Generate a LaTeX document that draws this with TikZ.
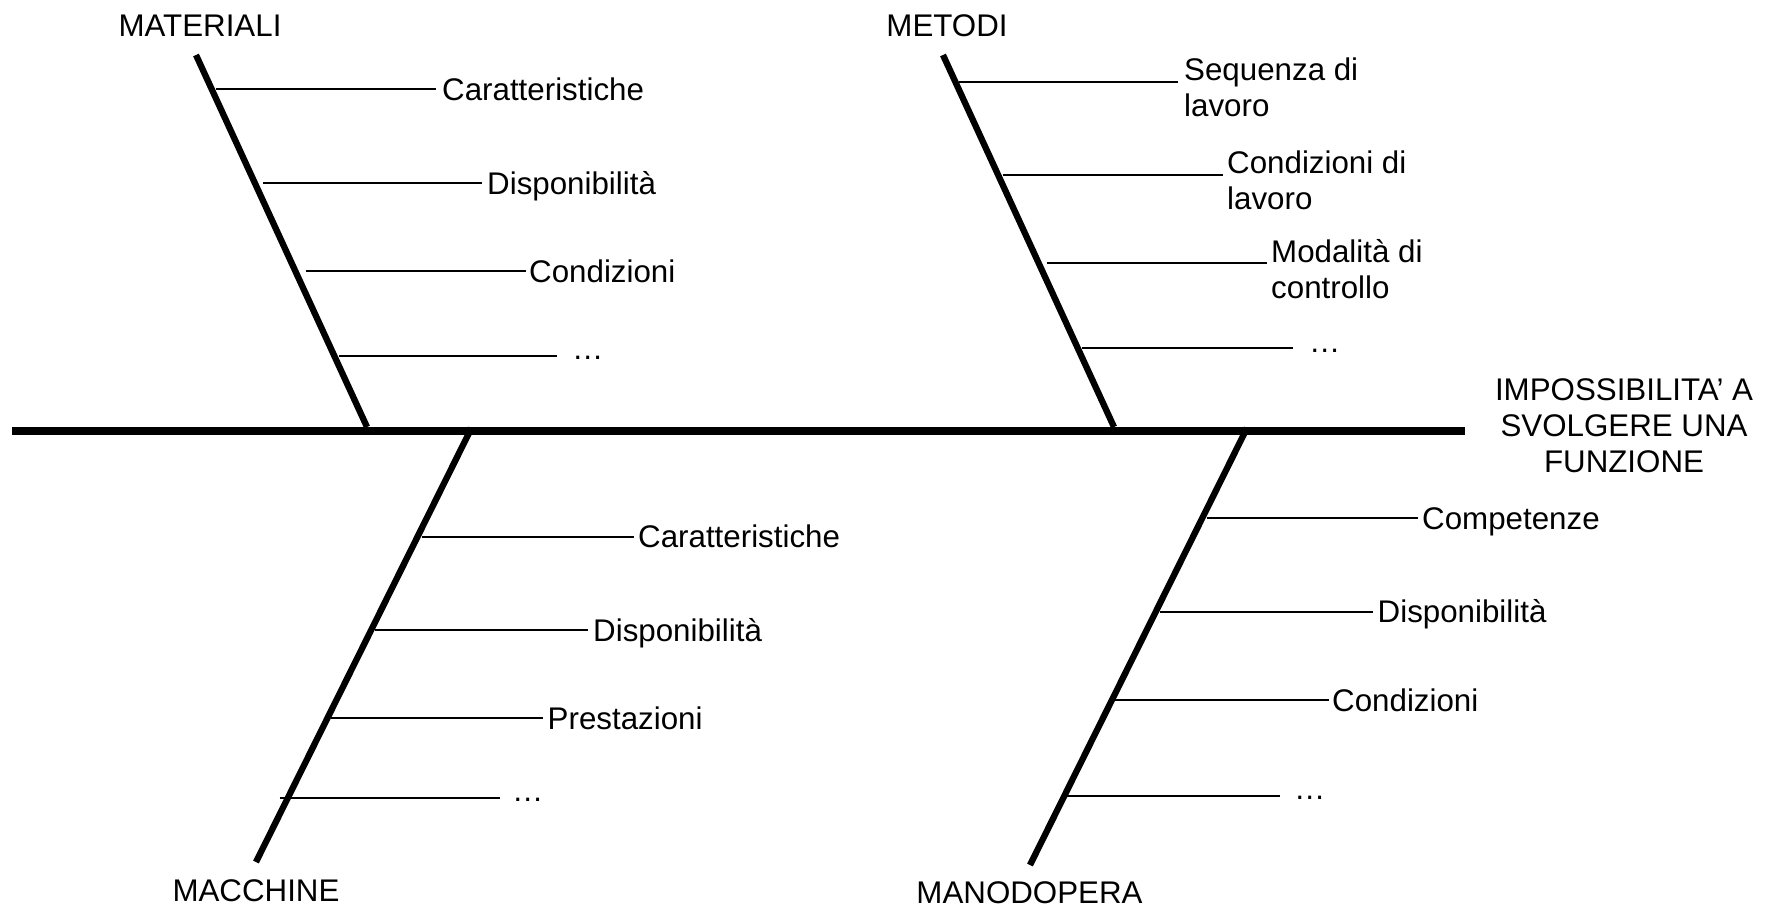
\documentclass[tikz,border=0pt]{standalone}
\usepackage{fontspec}
\setmainfont{Liberation Sans}
\newcommand\diagfont{\fontsize{31.3}{36}\selectfont}
\newcommand\twoln[2]{\vtop{\hbox{#1}\hbox{#2}}}
\begin{document}
\begin{tikzpicture}[x=1pt,y=-1pt,
  spine/.style={line width=7.7pt},
  bone/.style={line width=6.3pt},
  twig/.style={line width=1.9pt},
  lbl/.style={inner sep=0pt,anchor=base west,font=\diagfont},
  cat/.style={inner sep=0pt,anchor=base,font=\diagfont}]
\useasboundingbox (0,0) rectangle (1777,908);

% ---------- category labels ----------
\node[cat] (materiali) at (200,36) {MATERIALI};
\node[cat] (metodi) at (947,36) {METODI};
\node[cat] (macchine) at (256,901.5) {MACCHINE};
\node[cat] (manodopera) at (1029.5,903) {MANODOPERA};
\node[cat] (effetto) at (1624,400.7)
  {\vtop{\halign{\hfil#\hfil\cr IMPOSSIBILITA’ A\cr SVOLGERE UNA\cr FUNZIONE\cr}}};

% ---------- bone end points ----------
\coordinate (spL) at (12,431);
\coordinate (spR) at (1465,431);
\coordinate (maT) at (196,55);   \coordinate (maB) at (367,427);
\coordinate (meT) at (943,55);   \coordinate (meB) at (1114,427);
\coordinate (mcT) at (471.5,428); \coordinate (mcB) at (256,862);
\coordinate (mnT) at (1247,428);  \coordinate (mnB) at (1030,865);

% ---------- MATERIALI branches ----------
\coordinate (ma1s) at (216,89);   \coordinate (ma1e) at (436,89);
\coordinate (ma2s) at (263,183);  \coordinate (ma2e) at (482,183);
\coordinate (ma3s) at (306,271);  \coordinate (ma3e) at (526,271);
\coordinate (ma4s) at (339,356);  \coordinate (ma4e) at (557,356);
\draw[twig] (ma1s) -- (ma1e);
\draw[twig] (ma2s) -- (ma2e);
\draw[twig] (ma3s) -- (ma3e);
\draw[twig] (ma4s) -- (ma4e);
\node[lbl] (ma1) at (442,100) {Caratteristiche};
\node[lbl] (ma2) at (487,194) {Disponibilità};
\node[lbl] (ma3) at (529,282) {Condizioni};
\node[lbl] (ma4) at (572,359.5) {…};

% ---------- METODI branches ----------
\coordinate (me1s) at (959,82.3);    \coordinate (me1e) at (1178,82.3);
\coordinate (me2s) at (1002.5,175);  \coordinate (me2e) at (1223,175);
\coordinate (me3s) at (1047,263.3);  \coordinate (me3e) at (1267,263.3);
\coordinate (me4s) at (1081.7,347.7);\coordinate (me4e) at (1293,347.7);
\draw[twig] (me1s) -- (me1e);
\draw[twig] (me2s) -- (me2e);
\draw[twig] (me3s) -- (me3e);
\draw[twig] (me4s) -- (me4e);
\node[lbl] (me1) at (1184,80) {\twoln{Sequenza di}{lavoro}};
\node[lbl] (me2) at (1227,173.3) {\twoln{Condizioni di}{lavoro}};
\node[lbl] (me3) at (1271,262.7) {\twoln{Modalità di}{controllo}};
\node[lbl] (me4) at (1309,352) {…};

% ---------- MACCHINE branches ----------
\coordinate (mc1s) at (422,536.7);  \coordinate (mc1e) at (634,536.7);
\coordinate (mc2s) at (375,630);    \coordinate (mc2e) at (587.5,630);
\coordinate (mc3s) at (331,718);    \coordinate (mc3e) at (543,718);
\coordinate (mc4s) at (279.5,798);  \coordinate (mc4e) at (500,798);
\draw[twig] (mc1s) -- (mc1e);
\draw[twig] (mc2s) -- (mc2e);
\draw[twig] (mc3s) -- (mc3e);
\draw[twig] (mc4s) -- (mc4e);
\node[lbl] (mc1) at (638,547.5) {Caratteristiche};
\node[lbl] (mc2) at (593,641) {Disponibilità};
\node[lbl] (mc3) at (547.5,729) {Prestazioni};
\node[lbl] (mc4) at (512,801.5) {…};

% ---------- MANODOPERA branches ----------
\coordinate (mn1s) at (1206.7,518);  \coordinate (mn1e) at (1418,518);
\coordinate (mn2s) at (1160,611.7);  \coordinate (mn2e) at (1373,611.7);
\coordinate (mn3s) at (1115,700);    \coordinate (mn3e) at (1328.6,700);
\coordinate (mn4s) at (1067,796);    \coordinate (mn4e) at (1279.5,796);
\draw[twig] (mn1s) -- (mn1e);
\draw[twig] (mn2s) -- (mn2e);
\draw[twig] (mn3s) -- (mn3e);
\draw[twig] (mn4s) -- (mn4e);
\node[lbl] (mn1) at (1422,529) {Competenze};
\node[lbl] (mn2) at (1377.5,622.5) {Disponibilità};
\node[lbl] (mn3) at (1332,711) {Condizioni};
\node[lbl] (mn4) at (1294,799.5) {…};

% ---------- bones and spine ----------
\draw[bone] (maT) -- (maB);
\draw[bone] (meT) -- (meB);
\draw[bone] (mcT) -- (mcB);
\draw[bone] (mnT) -- (mnB);
\draw[spine] (spL) -- (spR);
\end{tikzpicture}
\end{document}
